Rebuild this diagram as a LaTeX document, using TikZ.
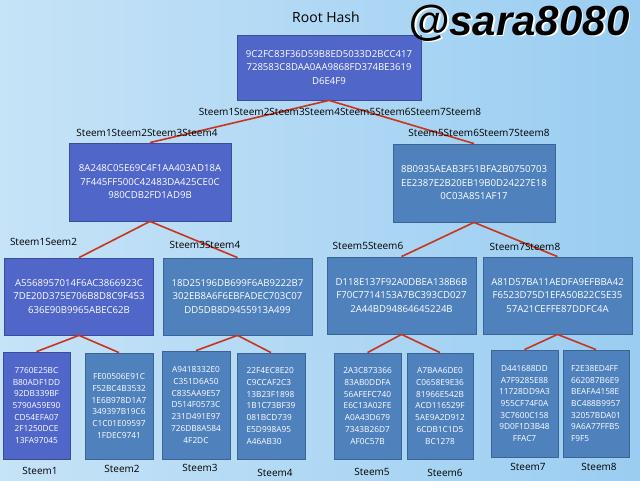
\documentclass[tikz,border=0pt]{standalone}
\usepackage{fontspec}
\setmainfont{Open Sans}
\newfontfamily\tagfont{Liberation Sans}
\definecolor{purpbox}{HTML}{5066C8}
\definecolor{steelbox}{HTML}{4F81BD}
\definecolor{purpedge}{HTML}{3B4C9A}
\definecolor{steeledge}{HTML}{3A6494}
\definecolor{linkred}{HTML}{C8341E}
\definecolor{bgL}{HTML}{C6E3F7}
\definecolor{bgM}{HTML}{F2F9FE}
\definecolor{bgR}{HTML}{9ACDF1}
\tikzset{
  hashbox/.style={rectangle, text=white, align=center, inner sep=0pt, line width=0.8pt,
    font=\fontsize{9.6}{13.5}\selectfont},
  leafbox/.style={hashbox, font=\fontsize{8.3}{11.7}\selectfont},
  purp/.style={fill=purpbox, draw=purpedge},
  steel/.style={fill=steelbox, draw=steeledge},
  midsize/.style={minimum width=162pt, minimum height=78pt},
  lowsize/.style={minimum width=149pt, minimum height=77pt},
  leafsize/.style={minimum width=67pt, minimum height=106pt},
  link/.style={draw=linkred, line width=1.6pt},
  lab/.style={font=\fontsize{10}{12}\selectfont, text=black, inner sep=0pt},
}
\begin{document}
\begin{tikzpicture}[x=1pt, y=-1pt]
\shade[left color=bgL, middle color=bgM, right color=bgR] (0,0) rectangle (640,481);
\useasboundingbox (0,0) rectangle (640,481);

% boxes
\node[hashbox, purp, minimum width=184pt, minimum height=65pt] (root) at (329,67.5)
  {9C2FC83F36D59B8ED5033D2BCC417\\728583C8DAA0AA9868FD374BE3619\\D6E4F9};
\node[hashbox, purp, midsize] (ha) at (150,182)
  {8A248C05E69C4F1AA403AD18A\\7F445FF500C42483DA425CE0C\\980CDB2FD1AD9B};
\node[hashbox, steel, midsize] (hb) at (474,183)
  {8B0935AEAB3F51BFA2B0750703\\EE2387E2B20EB19B0D24227E18\\0C03A851AF17};
\node[hashbox, purp, lowsize] (ga) at (79,296.5)
  {A5568957014F6AC3866923C\\7DE20D375E706B8D8C9F453\\636E90B9965ABEC62B};
\node[hashbox, steel, lowsize] (gb) at (237.5,296.5)
  {18D25196DB699F6AB9222B7\\302EB8A6F6EBFADEC703C07\\DD5DB8D9455913A499};
\node[hashbox, steel, lowsize] (gc) at (401.5,295.5)
  {D118E137F92A0DBEA138B6B\\F70C7714153A7BC393CD027\\2A44BD94864645224B};
\node[hashbox, steel, lowsize] (gd) at (557.5,295.5)
  {A81D57BA11AEDFA9EFBBA42\\F6523D75D1EFA50B22C5E35\\57A21CEFFE87DDFC4A};

\node[leafbox, purp, leafsize, minimum height=107pt] (s1) at (36.5,405.5)
  {7760E25BC\\B80ADF1DD\\92DB339BF\\5790A59E90\\CD54EFA07\\2F1250DCE\\13FA97045};
\node[leafbox, steel, leafsize, minimum width=68pt] (s2) at (119,406)
  {FE00506E91C\\F52BC4B3532\\1E6B978D1A7\\349397B19C6\\C1C01E09597\\1FDEC9741};
\node[leafbox, steel, leafsize, minimum width=68pt, minimum height=108pt] (s3) at (196,405)
  {A9418332E0\\C351D6A50\\C835AA9E57\\D514F0573C\\231D491E97\\726DB8A584\\4F2DC};
\node[leafbox, steel, leafsize, minimum width=68pt, align=left] (s4) at (271,406)
  {22F4EC8E20\\C9CCAF2C3\\13B23F1898\\1B1C73BF39\\081BCD739\\E5D998A95\\A46AB30};
\node[leafbox, steel, leafsize] (s5) at (367.5,406)
  {2A3C873366\\83AB0DDFA\\56AFEFC740\\E6C13A02FE\\A0A43D679\\7343B26D7\\AF0C57B};
\node[leafbox, steel, leafsize, minimum width=66pt] (s6) at (440,406)
  {A7BAA6DE0\\C0658E9E36\\81966E542B\\ACD116529F\\5AE9A2D912\\6CDB1C1D5\\BC1278};
\node[leafbox, steel, leafsize, minimum height=107pt] (s7) at (524.5,403.5)
  {D441688DD\\A7F9285E88\\11728DD9A3\\955CF74F0A\\3C7600C158\\9D0F1D3B48\\FFAC7};
\node[leafbox, steel, leafsize, minimum width=66pt, minimum height=107pt, align=left] (s8) at (596,403.5)
  {F2E38ED4FF\\662087B6E9\\BEAFA4158E\\BC488B9957\\32057BDA01\\9A6A77FFB5\\F9F5};

% connectors
\draw[link] (root.south) -- (ha.north);
\draw[link] (root.south) -- (hb.north);
\draw[link] (ha.south) -- (ga.north);
\draw[link] (ha.south) -- (gb.north);
\draw[link] (hb.south) -- (gc.north);
\draw[link] (hb.south) -- (gd.north);
\draw[link] (ga.south) -- (s1.north);
\draw[link] (ga.south) -- (s2.north);
\draw[link] (gb.south) -- (s3.north);
\draw[link] (gb.south) -- (s4.north);
\draw[link] (gc.south) -- (s5.north);
\draw[link] (gc.south) -- (s6.north);
\draw[link] (gd.south) -- (s7.north);
\draw[link] (gd.south) -- (s8.north);

% labels
\node[lab, font=\fontsize{14}{16}\selectfont] (title) at (326,17) {Root Hash};
\node[text=white, inner sep=0pt, font=\tagfont\bfseries\itshape\fontsize{42}{44}\selectfont] (tagshadow) at (520.5,24.5) {@sara8080};
\node[text=black, inner sep=0pt, font=\tagfont\bfseries\itshape\fontsize{42}{44}\selectfont] (tag) at (519,23) {@sara8080};
\node[lab] (lroot) at (340,112) {Steem1Steem2Steem3Steem4Steem5Steem6Steem7Steem8};
\node[lab] (lha) at (147,133) {Steem1Steem2Steem3Steem4};
\node[lab] (lhb) at (479,133) {Steem5Steem6Steem7Steem8};
\node[lab] (lga) at (43.5,242) {Steem1Seem2};
\node[lab] (lgb) at (205,245) {Steem3Steem4};
\node[lab] (lgc) at (368,246) {Steem5Steem6};
\node[lab] (lgd) at (525,247) {Steem7Steem8};
\node[lab] (ls1) at (40,471) {Steem1};
\node[lab] (ls2) at (122,469) {Steem2};
\node[lab] (ls3) at (200,468) {Steem3};
\node[lab] (ls4) at (275,473) {Steem4};
\node[lab] (ls5) at (372,472) {Steem5};
\node[lab] (ls6) at (445,473) {Steem6};
\node[lab] (ls7) at (528,467) {Steem7};
\node[lab] (ls8) at (599,467) {Steem8};
\end{tikzpicture}
\end{document}
